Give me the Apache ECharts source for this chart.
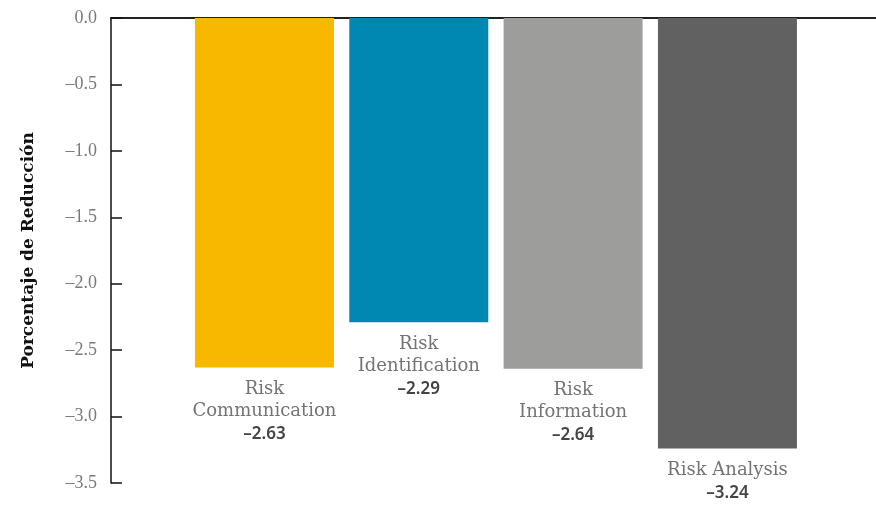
<!DOCTYPE html>
<html>
<head>
<meta charset="utf-8">
<script src="https://cdn.jsdelivr.net/npm/echarts@6/dist/echarts.min.js"></script>
<style>
  html, body { margin: 0; padding: 0; background: #ffffff; }
  #chart { width: 876px; height: 505px; }
</style>
</head>
<body>
<div id="chart"></div>
<script>
// Risk factors and their reduction (percent)
var categories = ['Risk\nCommunication', 'Risk\nIdentification', 'Risk\nInformation', 'Risk Analysis'];
var values = [-2.63, -2.29, -2.64, -3.24];
var barColors = ['#f9b800', '#0087b2', '#9d9d9b', '#616161'];
var yTicks = { min: -3.5, max: 0, step: 0.5 };
var yName = 'Porcentaje de Reducción';

function dash(v) { return String(v).replace('-', '\u2013'); }

var chart = echarts.init(document.getElementById('chart'), null, { renderer: 'canvas' });

var barData = values.map(function (v, i) {
  return { value: v, name: categories[i], itemStyle: { color: barColors[i] } };
});

chart.setOption({
  animation: false,
  grid: [
    { left: 187.3, right: 71.4, top: 18, bottom: 22 },
    { left: 111, right: 0, top: 18, bottom: 22 }
  ],
  xAxis: [
    {
      type: 'category', gridIndex: 0, data: categories, position: 'top',
      axisLine: { show: false }, axisTick: { show: false }, axisLabel: { show: false }
    },
    {
      // full-width baseline along the top edge
      type: 'value', gridIndex: 1, position: 'top', min: 0, max: 1,
      axisLine: { show: true, onZero: false, lineStyle: { color: '#222', width: 2 } },
      axisTick: { show: false }, axisLabel: { show: false }, splitLine: { show: false }
    }
  ],
  yAxis: [
    {
      type: 'value', gridIndex: 0, min: yTicks.min, max: yTicks.max, interval: yTicks.step,
      offset: 76.3,
      name: yName, nameLocation: 'middle', nameGap: 74,
      nameTextStyle: { fontFamily: 'DejaVu Serif', fontWeight: 'bold', fontSize: 17, color: '#111' },
      axisLine: { show: true, onZero: false, lineStyle: { color: '#111', width: 1.5 } },
      axisTick: { show: true, inside: true, length: 11, lineStyle: { color: '#111', width: 1.5 } },
      axisLabel: {
        margin: 14, color: '#7a7a7a', fontSize: 18, fontFamily: 'Liberation Serif',
        formatter: function (v) { return dash(v.toFixed(1)); }
      },
      splitLine: { show: false }
    },
    { type: 'value', gridIndex: 1, show: false, min: 0, max: 1 }
  ],
  series: [{
    type: 'bar', xAxisIndex: 0, yAxisIndex: 0,
    barWidth: 139,
    data: barData,
    label: {
      show: true, position: 'bottom', distance: 11, align: 'center',
      lineHeight: 22,
      formatter: function (p) {
        var lines = p.name.split('\n').map(function (s) { return '{n|' + s + '}'; });
        return lines.join('\n') + '\n{v|' + dash(p.value.toFixed(2)) + '}';
      },
      rich: {
        n: { fontFamily: 'DejaVu Serif', fontSize: 18, color: '#747474', lineHeight: 22 },
        v: { fontFamily: 'Noto Sans', fontWeight: 600, fontSize: 17, color: '#444', lineHeight: 23 }
      }
    }
  }]
});
</script>
</body>
</html>
